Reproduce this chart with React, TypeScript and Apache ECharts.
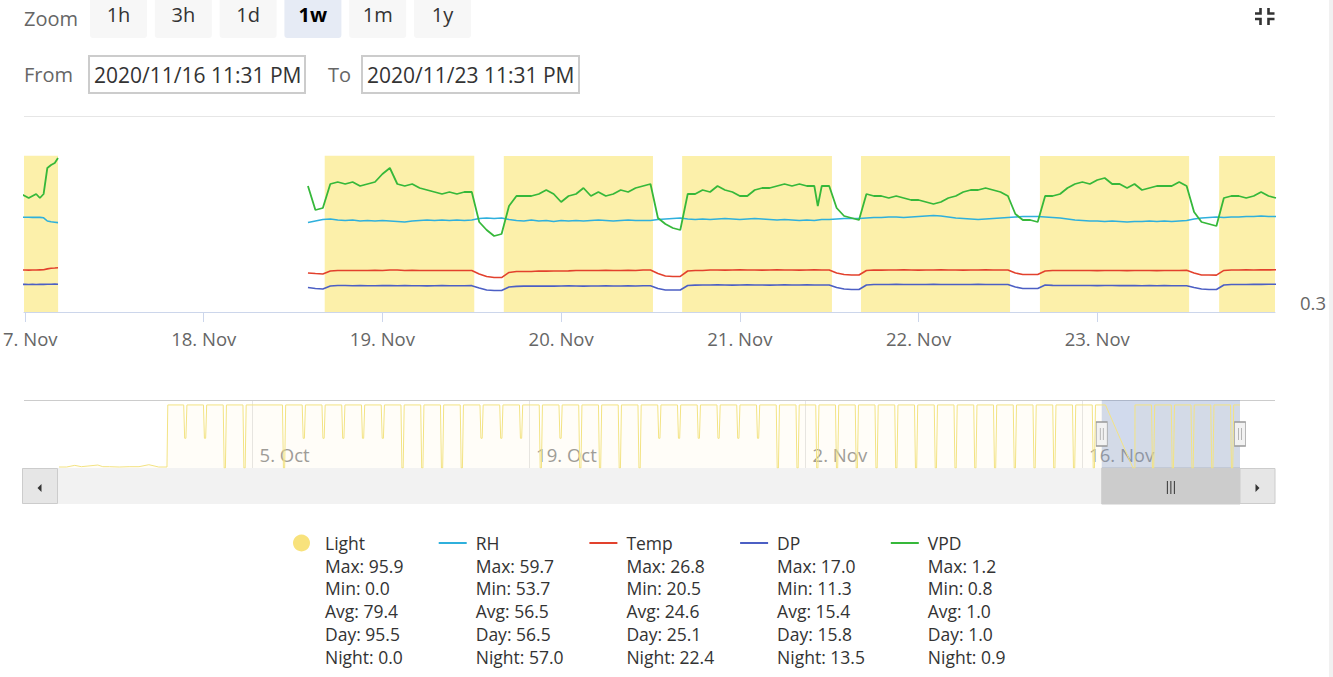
import React, { useEffect, useRef } from 'react';
import * as echarts from 'echarts';

const FONT = "'Open Sans', 'Noto Sans', sans-serif";

const ts = (s: string): number =>
  s.length === 10 ? Date.parse(s + 'T00:00:00Z') : Date.parse(s.replace(' ', 'T') + ':00Z');

// ---- windows ----
const windowStart = '2020-11-16 23:52';
const windowEnd = '2020-11-23 23:52';
const navStart = '2020-09-25 04:48';
const navEnd = '2020-11-23 23:52';

const mainTickDays = ['2020-11-17', '2020-11-18', '2020-11-19', '2020-11-20', '2020-11-21', '2020-11-22', '2020-11-23'];
const navTickDays = ['2020-10-05', '2020-10-19', '2020-11-02', '2020-11-16'];
const monthNames = ['Jan', 'Feb', 'Mar', 'Apr', 'May', 'Jun', 'Jul', 'Aug', 'Sep', 'Oct', 'Nov', 'Dec'];

// ---- UI texts ----
const zoomButtons = ['1h', '3h', '1d', '1w', '1m', '1y'];
const selectedZoom = '1w';
const fromText = '2020/11/16 11:31 PM';
const toText = '2020/11/23 11:31 PM';

// ---- legend ----
const seriesNames = ['Light', 'RH', 'Temp', 'DP', 'VPD'];
const statLabels = ['Max', 'Min', 'Avg', 'Day', 'Night'];
const lightStats = ['95.9', '0.0', '79.4', '95.5', '0.0'];
const rhStats = ['59.7', '53.7', '56.5', '56.5', '57.0'];
const tempStats = ['26.8', '20.5', '24.6', '25.1', '22.4'];
const dpStats = ['17.0', '11.3', '15.4', '15.8', '13.5'];
const vpdStats = ['1.2', '0.8', '1.0', '1.0', '0.9'];

const lightColor = '#f8e27c';
const lightFill = '#fcf0aa';
const rhColor = '#2fb0dc';
const tempColor = '#e2412d';
const dpColor = '#4c5fc4';
const vpdColor = '#36b83a';

// ---- light (main window), step data ----
const lightTimes = [
  '2020-11-16 20:00', '2020-11-17 04:26', '2020-11-17 04:27', '2020-11-18 13:52', '2020-11-18 16:15',
  '2020-11-19 12:20', '2020-11-19 16:18', '2020-11-20 12:20', '2020-11-20 16:15', '2020-11-21 12:22',
  '2020-11-21 16:16', '2020-11-22 12:17', '2020-11-22 16:18', '2020-11-23 12:20', '2020-11-23 16:22',
  '2020-11-23 23:59',
];
const lightValues: (number | null)[] = [95.6, 95.6, null, 0, 95.6, 0, 95.5, 0, 95.5, 0, 95.5, 0, 95.5, 0, 95.5, 95.5];

// ---- segment A (before data gap) ----
const segATimes = [
  '2020-11-16 23:00', '2020-11-17 00:00', '2020-11-17 00:30', '2020-11-17 01:00', '2020-11-17 01:30',
  '2020-11-17 02:00', '2020-11-17 02:30', '2020-11-17 03:00', '2020-11-17 03:30', '2020-11-17 04:00',
  '2020-11-17 04:26',
];
const rhA = [57.9, 57.85, 57.9, 57.8, 57.85, 57.8, 57.6, 56.0, 55.6, 55.4, 55.2];
const tempA = [25.1, 25.1, 25.05, 25.1, 25.1, 25.15, 25.2, 25.6, 25.9, 26.0, 26.1];
const dpA = [16.3, 16.35, 16.3, 16.35, 16.3, 16.35, 16.35, 16.4, 16.4, 16.45, 16.4];
const vpdA = [1.02, 1.0, 0.99, 1.0, 1.01, 0.99, 1.01, 1.14, 1.155, 1.165, 1.19];

const gapTime = '2020-11-18 00:00';
// ---- segment B: hourly from 2020-11-18 14:00 ----
const segBStart = '2020-11-18 14:00';
const rhB = [
  55.25, 56.0, 56.75, 57.0, 56.5, 56.25, 56.5, 56.0, 56.25, 56.0,
  56.25, 56.0, 55.75, 55.5, 56.0, 56.25, 56.5, 56.25, 56.5, 56.25,
  56.5, 56.25, 56.5, 57.25, 57.5, 57.25, 57.5, 56.75, 56.25, 56.0,
  56.5, 56.0, 56.25, 55.75, 56.25, 56.0, 56.25, 56.0, 56.25, 56.5,
  56.25, 56.0, 56.25, 56.5, 56.25, 56.25, 56.25, 56.75, 57.0, 57.25,
  57.5, 57.0, 56.75, 57.0, 56.75, 57.0, 57.25, 57.0, 56.75, 57.0,
  57.25, 57.0, 56.75, 56.5, 56.75, 56.5, 56.25, 56.5, 56.25, 56.75,
  56.75, 57.0, 57.25, 57.25, 57.25, 57.5, 57.75, 57.75, 58.0, 58.0,
  57.75, 58.0, 58.25, 58.5, 58.75, 58.5, 58.0, 57.5, 57.25, 57.0,
  56.75, 57.0, 57.25, 57.5, 57.75, 58.0, 58.25, 58.25, 58.25, 58.0,
  57.75, 57.5, 57.0, 56.5, 56.25, 56.0, 56.0, 55.75, 56.0, 55.75,
  55.5, 55.75, 55.75, 56.0, 55.75, 56.0, 55.75, 56.0, 56.25, 57.0,
  57.5, 57.75, 58.0, 57.75, 58.0, 58.0, 58.25, 58.25, 58.5, 58.25,
  58.25,
];
const tempB = [
  23.75, 23.5, 23.3, 24.65, 24.9, 24.9, 24.9, 24.85, 24.9, 24.95,
  24.9, 25.1, 25.1, 24.9, 24.95, 24.9, 24.85, 24.9, 24.85, 24.9,
  24.9, 24.9, 24.9, 23.3, 22.2, 21.7, 21.7, 24.0, 24.4, 24.45,
  24.4, 24.65, 24.6, 24.65, 24.65, 24.7, 24.9, 24.85, 24.9, 24.9,
  24.95, 24.9, 24.9, 24.95, 24.9, 25.1, 25.1, 23.5, 22.4, 22.2,
  22.2, 24.65, 24.9, 24.9, 25.1, 25.1, 25.05, 25.1, 25.15, 25.1,
  25.1, 25.05, 25.1, 25.15, 25.1, 25.1, 25.05, 25.1, 25.15, 25.1,
  25.1, 23.75, 23.1, 22.85, 22.85, 24.9, 25.1, 25.05, 25.1, 25.1,
  25.15, 25.1, 25.05, 25.1, 25.1, 25.15, 25.1, 25.1, 25.05, 25.1,
  25.1, 25.15, 25.1, 25.1, 25.1, 23.75, 23.1, 23.1, 23.1, 24.65,
  24.9, 24.85, 24.9, 24.9, 24.85, 24.9, 24.8, 24.85, 24.9, 24.85,
  24.8, 24.85, 24.9, 24.85, 24.8, 24.85, 24.9, 24.9, 24.95, 23.75,
  22.85, 22.85, 22.8, 24.9, 25.1, 25.1, 25.15, 25.1, 25.2, 25.15,
  25.2,
];
const dpB = [
  14.9, 14.5, 14.25, 15.6, 15.8, 15.8, 15.7, 15.75, 15.7, 15.7,
  15.75, 15.8, 15.7, 15.75, 15.7, 15.7, 15.65, 15.7, 15.75, 15.7,
  15.7, 15.7, 15.75, 14.7, 13.8, 13.6, 13.6, 15.15, 15.45, 15.55,
  15.6, 15.55, 15.6, 15.55, 15.6, 15.65, 15.6, 15.55, 15.6, 15.6,
  15.65, 15.6, 15.6, 15.65, 15.6, 15.7, 15.7, 14.5, 13.8, 13.8,
  13.8, 15.8, 16.0, 16.05, 16.05, 16.1, 16.05, 16.0, 16.05, 16.1,
  16.05, 16.05, 16.0, 16.05, 16.1, 16.05, 16.05, 16.1, 16.05, 16.05,
  16.05, 14.9, 14.25, 14.0, 14.0, 16.05, 16.25, 16.3, 16.3, 16.35,
  16.3, 16.25, 16.3, 16.3, 16.35, 16.3, 16.3, 16.25, 16.3, 16.3,
  16.35, 16.3, 16.3, 16.3, 16.25, 15.15, 14.5, 14.5, 14.5, 16.05,
  15.9, 15.85, 15.8, 15.8, 15.85, 15.8, 15.75, 15.8, 15.8, 15.75,
  15.8, 15.75, 15.7, 15.75, 15.7, 15.75, 15.7, 15.7, 15.7, 14.9,
  14.25, 14.0, 14.0, 16.05, 16.25, 16.3, 16.3, 16.35, 16.35, 16.4,
  16.4,
];
const vpdB = [
  1.05, 0.93, 0.94, 1.06, 1.07, 1.06, 1.07, 1.05, 1.06, 1.07,
  1.11, 1.14, 1.06, 1.05, 1.06, 1.04, 1.03, 1.02, 1.01, 1.02,
  1.01, 1.02, 1.02, 0.87, 0.83, 0.8, 0.81, 0.95, 1.0, 1.0,
  1.0, 1.01, 1.03, 1.01, 0.97, 1.0, 1.01, 1.04, 1.0, 1.02,
  1.0, 1.01, 1.03, 1.02, 1.04, 1.05, 1.06, 0.89, 0.86, 0.84,
  0.83, 1.01, 1.01, 1.03, 1.02, 1.05, 1.03, 1.02, 1.0, 1.0,
  1.03, 1.04, 1.04, 1.05, 1.06, 1.05, 1.06, 1.05, 1.05, 1.05,
  1.05, 0.94, 0.9, 0.89, 0.88, 1.01, 1.0, 1.0, 0.99, 1.0,
  0.99, 0.98, 0.98, 0.97, 0.96, 0.97, 0.99, 1.0, 1.02, 1.03,
  1.03, 1.04, 1.03, 1.02, 1.0, 0.91, 0.88, 0.88, 0.87, 1.0,
  1.0, 1.01, 1.04, 1.06, 1.07, 1.06, 1.08, 1.09, 1.06, 1.06,
  1.04, 1.06, 1.03, 1.04, 1.05, 1.05, 1.05, 1.07, 1.05, 0.92,
  0.87, 0.86, 0.85, 0.99, 1.0, 1.0, 0.99, 1.0, 1.02, 1.0,
  0.99,
];
const vpdExtraTimes = ['2020-11-21 10:28'];
const vpdExtraValues = [0.95];

// ---- navigator (Light, as drawn in the navigator) ----
const navPreTimes = [
  '2020-09-25 04:48', '2020-09-25 14:00', '2020-09-26 00:00', '2020-09-26 08:00', '2020-09-26 16:00',
  '2020-09-27 04:00', '2020-09-27 10:00', '2020-09-27 18:00', '2020-09-28 06:00', '2020-09-28 18:00',
  '2020-09-29 06:00', '2020-09-29 18:00', '2020-09-30 06:00', '2020-09-30 16:00', '2020-09-30 17:00',
];
const navPreValues = [1.5, 1.5, 4, 2, 3, 4.5, 2, 2, 1.5, 2, 2, 5, 1.5, 1.5, 95.5];
const navNightDays = [
  '2020-10-01', '2020-10-02', '2020-10-03', '2020-10-04', '2020-10-06', '2020-10-07', '2020-10-08',
  '2020-10-09', '2020-10-10', '2020-10-11', '2020-10-12', '2020-10-13', '2020-10-14', '2020-10-15',
  '2020-10-16', '2020-10-17', '2020-10-18', '2020-10-19', '2020-10-20', '2020-10-21', '2020-10-22',
  '2020-10-23', '2020-10-24', '2020-10-25', '2020-10-26', '2020-10-27', '2020-10-28', '2020-10-29',
  '2020-10-30', '2020-10-31', '2020-11-01', '2020-11-02', '2020-11-03', '2020-11-04', '2020-11-05',
  '2020-11-06', '2020-11-07', '2020-11-08', '2020-11-09', '2020-11-10', '2020-11-11', '2020-11-12',
  '2020-11-13', '2020-11-14', '2020-11-15', '2020-11-16', '2020-11-19', '2020-11-20', '2020-11-21',
  '2020-11-22', '2020-11-23',
];
const navNightLow = [
  45, 45, 0, 0, 0, 45, 45,
  45, 45, 45, 0, 0, 0, 0,
  45, 45, 45, 0, 45, 0, 0,
  0, 0, 45, 45, 45, 45, 45,
  45, 0, 0, 0, 0, 0, 0,
  0, 0, 0, 0, 0, 0, 0,
  0, 0, 0, 0, 0, 0, 0,
  0, 0,
];
const navDayLevel = 95.5;
const navGapTimes = ['2020-11-17 04:26', '2020-11-18 13:52', '2020-11-18 16:10', '2020-11-18 16:15', '2020-11-23 23:52'];
const navGapValues = [95.5, 0, 0, 95.5, 95.5];

const fmtDay = (v: number) => {
  const d = new Date(v);
  return d.getUTCDate() + '. ' + monthNames[d.getUTCMonth()];
};

function pairs(times: number[], vals: (number | null)[]) {
  return times.map((t, i) => [t, vals[i]]);
}

function buildSeriesData() {
  const aT = segATimes.map(ts);
  const bStart = ts(segBStart);
  const bT = rhB.map((_, i) => bStart + i * 3600000);
  const gap: [number, null][] = [[ts(gapTime), null]];
  const mk = (a: number[], b: number[]) => [...pairs(aT, a), ...gap, ...pairs(bT, b)];
  const vpd = [...mk(vpdA, vpdB), ...pairs(vpdExtraTimes.map(ts), vpdExtraValues)].sort(
    (p, q) => (p[0] as number) - (q[0] as number)
  );
  const nav: any[] = [...pairs(navPreTimes.map(ts), navPreValues), ...pairs(navGapTimes.map(ts), navGapValues)];
  navNightDays.forEach((d, i) => {
    nav.push([ts(d + ' 12:20'), navDayLevel]);
    nav.push([ts(d + ' 13:30'), navNightLow[i]]);
    nav.push([ts(d + ' 15:00'), navNightLow[i]]);
    nav.push([ts(d + ' 16:15'), navDayLevel]);
  });
  nav.sort((p, q) => p[0] - q[0]);
  return {
    light: pairs(lightTimes.map(ts), lightValues),
    rh: mk(rhA, rhB),
    temp: mk(tempA, tempB),
    dp: mk(dpA, dpB),
    vpd,
    nav,
  };
}

function buildOption() {
  const d = buildSeriesData();
  const selStart = ts(windowStart);
  const selEnd = ts(windowEnd);
  const lineBase = { type: 'line', xAxisIndex: 0, symbol: 'none', showSymbol: false, silent: true };
  return {
    animation: false,
    backgroundColor: '#ffffff',
    textStyle: { fontFamily: FONT },
    grid: [
      { left: 24, top: 116, width: 1251, height: 196, containLabel: false, outerBoundsMode: 'none' },
      { left: 59, top: 400, width: 1181, height: 68, containLabel: false, outerBoundsMode: 'none' },
    ],
    xAxis: [
      {
        type: 'value', gridIndex: 0, min: selStart, max: selEnd, z: 5,
        axisLine: { show: true, lineStyle: { color: '#ccd6eb', width: 1 } },
        axisTick: { show: true, length: 10, lineStyle: { color: '#ccd6eb' }, customValues: mainTickDays.map(ts) },
        axisLabel: {
          customValues: mainTickDays.map(ts), formatter: fmtDay, color: '#666666',
          fontSize: 18.5, fontFamily: FONT, margin: 17, hideOverlap: false,
        },
        splitLine: { show: false },
      },
      {
        type: 'value', gridIndex: 1, min: ts(navStart), max: ts(navEnd),
        axisLine: { show: false },
        axisTick: { show: false, customValues: navTickDays.map(ts) },
        axisLabel: {
          customValues: navTickDays.map(ts), formatter: fmtDay, inside: true, color: '#999999',
          fontSize: 18.5, fontFamily: FONT, align: 'left', padding: [0, 0, 0, 7], margin: 4, hideOverlap: false,
        },
        splitLine: { show: true, lineStyle: { color: '#e6e6e6', width: 1 } },
      },
    ],
    yAxis: [
      {
        type: 'value', gridIndex: 0, min: 0, max: 120, interval: 120,
        axisLabel: { show: false }, axisLine: { show: false }, axisTick: { show: false },
        splitLine: { show: true, lineStyle: { color: '#e6e6e6' } },
      },
      { type: 'value', gridIndex: 0, min: 10.5, max: 108.5, show: false },
      { type: 'value', gridIndex: 0, min: 6.2, max: 94.4, show: false },
      { type: 'value', gridIndex: 0, min: 3.9, max: 92.1, show: false },
      { type: 'value', gridIndex: 0, min: 0.42, max: 1.4, show: false },
      {
        type: 'value', gridIndex: 0, position: 'right', min: 0.3, max: 1.3, interval: 1,
        axisLine: { show: false }, axisTick: { show: false }, splitLine: { show: false },
        axisLabel: { showMaxLabel: false, color: '#666666', fontSize: 18.5, fontFamily: FONT, margin: 25, verticalAlign: 'bottom' },
      },
      { type: 'value', gridIndex: 1, min: 0, max: 103, show: false },
    ],
    series: [
      {
        ...lineBase, name: 'Light', yAxisIndex: 0, step: 'end', data: d.light, z: 1,
        itemStyle: { color: lightColor }, lineStyle: { width: 0, opacity: 0 },
        areaStyle: { color: lightFill, opacity: 1 },
      },
      { ...lineBase, name: 'RH', yAxisIndex: 1, data: d.rh, z: 3, itemStyle: { color: rhColor }, lineStyle: { color: rhColor, width: 1.6 } },
      { ...lineBase, name: 'Temp', yAxisIndex: 2, data: d.temp, z: 3, itemStyle: { color: tempColor }, lineStyle: { color: tempColor, width: 1.6 } },
      { ...lineBase, name: 'DP', yAxisIndex: 3, data: d.dp, z: 3, itemStyle: { color: dpColor }, lineStyle: { color: dpColor, width: 1.6 } },
      { ...lineBase, name: 'VPD', yAxisIndex: 4, data: d.vpd, z: 4, itemStyle: { color: vpdColor }, lineStyle: { color: vpdColor, width: 1.8 } },
      {
        type: 'line', name: 'Navigator', xAxisIndex: 1, yAxisIndex: 6, data: d.nav, symbol: 'none', showSymbol: false,
        silent: true, z: 2,
        itemStyle: { color: '#f3e07f' },
        lineStyle: { color: '#f3e383', width: 1 },
        areaStyle: { color: 'rgba(247,227,125,0.08)' },
        markArea: {
          silent: true,
          itemStyle: { color: 'rgba(102,133,194,0.3)' },
          data: [[{ xAxis: selStart }, { xAxis: selEnd }]],
        },
        markPoint: {
          silent: true,
          symbol: 'path://M0,0H11V24H0Z M4,6V18 M7,6V18',
          symbolSize: [11, 24],
          itemStyle: { color: '#f2f2f2', borderColor: '#999999', borderWidth: 1 },
          label: { show: false },
          data: [{ coord: [selStart, 51.5] }, { coord: [selEnd, 51.5] }],
        },
      },
    ],
  };
}

function buildGraphics(sx: number, ex: number) {
  const els: any[] = [];
  const txt = (text: string, x: number, y: number, size: number, fill: string, extra: any = {}) => ({
    type: 'text', x, y, silent: true,
    style: { text, fill, fontSize: size, fontFamily: FONT, verticalAlign: 'middle', align: 'left', ...extra },
  });
  els.push({ type: 'rect', silent: true, shape: { x: 1329, y: 0, width: 4, height: 677 }, style: { fill: '#f1f1f1' } });
  els.push(txt('Zoom', 24, 18, 20, '#666666'));
  zoomButtons.forEach((b, i) => {
    const x = 90 + i * 64.8;
    const sel = b === selectedZoom;
    els.push({ type: 'rect', silent: true, shape: { x, y: -6, width: 57, height: 44, r: 3 }, style: { fill: sel ? '#e6ebf5' : '#f7f7f7' } });
    els.push(txt(b, x + 28.5, 14, 20, sel ? '#000000' : '#333333', { align: 'center', fontWeight: sel ? 'bold' : 'normal' }));
  });
  els.push(txt('From', 24, 74, 20, '#666666'));
  els.push({ type: 'rect', silent: true, shape: { x: 89, y: 56, width: 216, height: 37 }, style: { fill: '#ffffff', stroke: '#cccccc', lineWidth: 2 } });
  els.push(txt(fromText, 94, 74.5, 21, '#333333'));
  els.push(txt('To', 328, 74, 20, '#666666'));
  els.push({ type: 'rect', silent: true, shape: { x: 362, y: 56, width: 217, height: 37 }, style: { fill: '#ffffff', stroke: '#cccccc', lineWidth: 2 } });
  els.push(txt(toText, 367, 74.5, 21, '#333333'));
  const iconStyle = { stroke: '#333333', lineWidth: 2.6, fill: 'none' };
  [
    [[1255, 13.5], [1260.5, 13.5], [1260.5, 8]],
    [[1268.5, 8], [1268.5, 13.5], [1274.5, 13.5]],
    [[1255, 19], [1260.5, 19], [1260.5, 25]],
    [[1274.5, 19], [1268.5, 19], [1268.5, 25]],
  ].forEach((pts) => els.push({ type: 'polyline', silent: true, shape: { points: pts }, style: iconStyle }));
  els.push({ type: 'line', silent: true, shape: { x1: 24, y1: 400.5, x2: 1275, y2: 400.5 }, style: { stroke: '#cccccc', lineWidth: 1 } });
  els.push({ type: 'rect', silent: true, shape: { x: 22, y: 468, width: 1253, height: 36 }, style: { fill: '#f2f2f2' } });
  els.push({ type: 'rect', silent: true, shape: { x: sx, y: 468, width: ex - sx, height: 36 }, style: { fill: '#cccccc', stroke: '#cccccc' } });
  const cx = (sx + ex) / 2;
  [-3.5, 0, 3.5].forEach((o) =>
    els.push({ type: 'line', silent: true, shape: { x1: cx + o, y1: 481, x2: cx + o, y2: 494 }, style: { stroke: '#333333', lineWidth: 1 } })
  );
  els.push({ type: 'rect', silent: true, shape: { x: 22.5, y: 468.5, width: 35, height: 35 }, style: { fill: '#e6e6e6', stroke: '#cccccc', lineWidth: 1 } });
  els.push({ type: 'polygon', silent: true, shape: { points: [[37.5, 488], [41.5, 484], [41.5, 492]] }, style: { fill: '#333333' } });
  els.push({ type: 'rect', silent: true, shape: { x: 1240, y: 468.5, width: 35, height: 35 }, style: { fill: '#e6e6e6', stroke: '#cccccc', lineWidth: 1 } });
  els.push({ type: 'polygon', silent: true, shape: { points: [[1259.5, 488], [1255.5, 484], [1255.5, 492]] }, style: { fill: '#333333' } });
  const stats = [lightStats, rhStats, tempStats, dpStats, vpdStats];
  const colors = [lightColor, rhColor, tempColor, dpColor, vpdColor];
  seriesNames.forEach((n, i) => {
    const tx = 325 + i * 150.7;
    if (i === 0) {
      els.push({ type: 'circle', silent: true, shape: { cx: tx - 23.5, cy: 543, r: 8.5 }, style: { fill: colors[i] } });
    } else {
      els.push({ type: 'line', silent: true, shape: { x1: tx - 37, y1: 543, x2: tx - 9, y2: 543 }, style: { stroke: colors[i], lineWidth: 2 } });
    }
    els.push(txt(n, tx, 543, 17.5, '#333333'));
    stats[i].forEach((v, j) => els.push(txt(statLabels[j] + ': ' + v, tx, 565.5 + j * 22.9, 17.5, '#333333')));
  });
  return els;
}

export default function App() {
  const ref = useRef<HTMLDivElement>(null);
  useEffect(() => {
    if (!ref.current) return;
    const chart = echarts.init(ref.current, null, { renderer: 'svg' });
    chart.setOption(buildOption() as any);
    const sx = chart.convertToPixel({ xAxisIndex: 1 } as any, ts(windowStart)) as unknown as number;
    const ex = chart.convertToPixel({ xAxisIndex: 1 } as any, ts(windowEnd)) as unknown as number;
    chart.setOption({ graphic: buildGraphics(sx, ex) } as any);
    return () => chart.dispose();
  }, []);
  return <div ref={ref} style={{ position: 'fixed', left: 0, top: 0, width: 1333, height: 677 }} />;
}
